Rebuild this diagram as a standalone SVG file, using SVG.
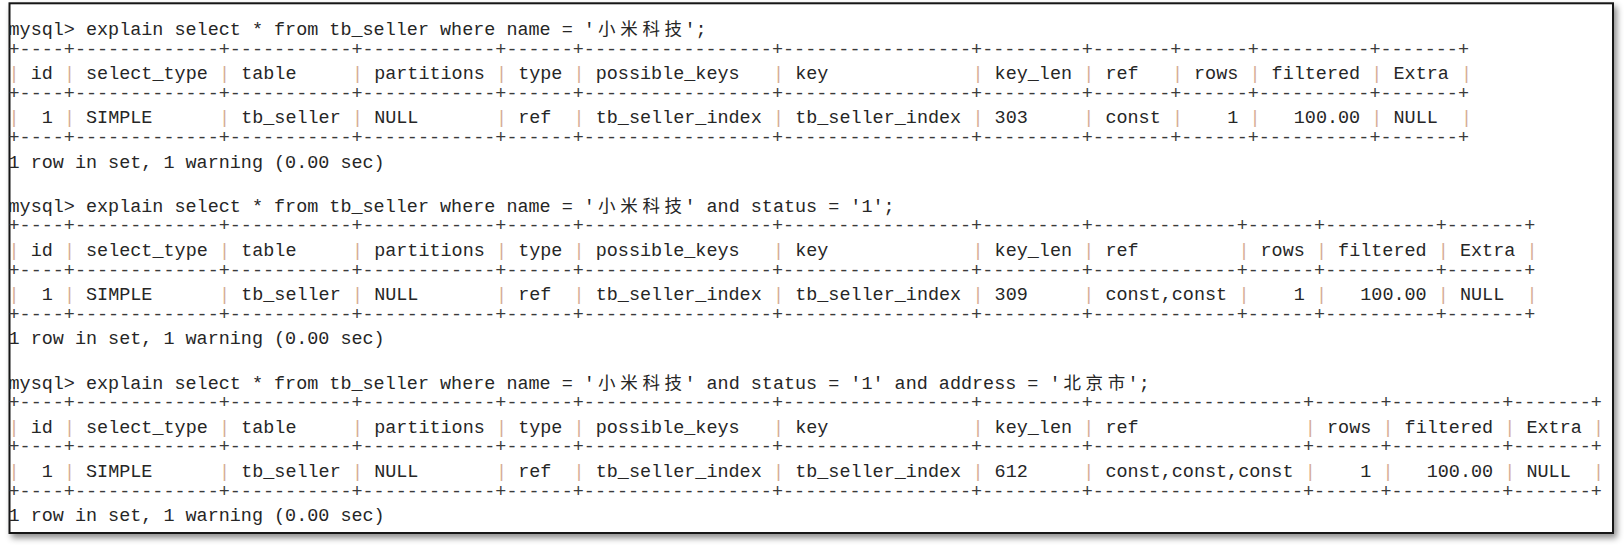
<svg xmlns="http://www.w3.org/2000/svg" width="1624" height="549" viewBox="0 0 1624 549" xml:space="preserve">
<defs>
<filter id="sh" x="-2%" y="-3%" width="105%" height="110%">
<feDropShadow dx="3" dy="4" stdDeviation="3" flood-color="#000" flood-opacity="0.45"/>
</filter>
<style>
text{font-family:"Liberation Mono","DejaVu Sans Mono",monospace;font-size:18.46px;fill:#262626;white-space:pre}
.b{fill:#3a3a3a}
.p{fill:#d6ae98}
.c{font-family:"Noto Sans CJK SC","Noto Sans CJK JP",sans-serif;font-size:17.5px;text-anchor:middle}
</style>
</defs>
<rect x="0" y="0" width="1624" height="549" fill="#fff"/>
<rect x="9.5" y="3.3" width="1603.5" height="529.7" fill="#fff" stroke="#151515" stroke-width="2" filter="url(#sh)"/>

<g id="block1">
<text x="8.5" y="35">mysql&gt; explain select * from tb_seller where name = '</text>
<text class="c" x="606.82" y="35">小</text><text class="c" x="628.98" y="35">米</text><text class="c" x="651.14" y="35">科</text><text class="c" x="673.3" y="35">技</text>
<text x="684.38" y="35">';</text>
<text class="b" x="8.5" y="54.5">+----+-------------+-----------+------------+------+-----------------+-----------------+---------+-------+------+----------+-------+</text>
<text y="79.2"><tspan class="p" x="8.5">|</tspan><tspan x="30.66">id</tspan><tspan class="p" x="63.9">|</tspan><tspan x="86.06">select_type</tspan><tspan class="p" x="219.02">|</tspan><tspan x="241.18">table</tspan><tspan class="p" x="352">|</tspan><tspan x="374.14">partitions</tspan><tspan class="p" x="496.02">|</tspan><tspan x="518.18">type</tspan><tspan class="p" x="573.58">|</tspan><tspan x="595.74">possible_keys</tspan><tspan class="p" x="773.02">|</tspan><tspan x="795.18">key</tspan><tspan class="p" x="972.46">|</tspan><tspan x="994.62">key_len</tspan><tspan class="p" x="1083.26">|</tspan><tspan x="1105.42">ref</tspan><tspan class="p" x="1171.9">|</tspan><tspan x="1194.06">rows</tspan><tspan class="p" x="1249.46">|</tspan><tspan x="1271.62">filtered</tspan><tspan class="p" x="1371.34">|</tspan><tspan x="1393.5">Extra</tspan><tspan class="p" x="1460.98">|</tspan></text>
<text class="b" x="8.5" y="98.7">+----+-------------+-----------+------------+------+-----------------+-----------------+---------+-------+------+----------+-------+</text>
<text y="123.4"><tspan class="p" x="8.5">|</tspan><tspan x="41.74">1</tspan><tspan class="p" x="63.9">|</tspan><tspan x="86.06">SIMPLE</tspan><tspan class="p" x="219.02">|</tspan><tspan x="241.18">tb_seller</tspan><tspan class="p" x="352">|</tspan><tspan x="374.14">NULL</tspan><tspan class="p" x="496.02">|</tspan><tspan x="518.18">ref</tspan><tspan class="p" x="573.58">|</tspan><tspan x="595.74">tb_seller_index</tspan><tspan class="p" x="773.02">|</tspan><tspan x="795.18">tb_seller_index</tspan><tspan class="p" x="972.46">|</tspan><tspan x="994.62">303</tspan><tspan class="p" x="1083.26">|</tspan><tspan x="1105.42">const</tspan><tspan class="p" x="1171.9">|</tspan><tspan x="1227.3">1</tspan><tspan class="p" x="1249.46">|</tspan><tspan x="1293.78">100.00</tspan><tspan class="p" x="1371.34">|</tspan><tspan x="1393.5">NULL</tspan><tspan class="p" x="1460.98">|</tspan></text>
<text class="b" x="8.5" y="142.9">+----+-------------+-----------+------------+------+-----------------+-----------------+---------+-------+------+----------+-------+</text>
<text x="8.5" y="167.6">1 row in set, 1 warning (0.00 sec)</text>
</g>

<g id="block2">
<text x="8.5" y="211.8">mysql&gt; explain select * from tb_seller where name = '</text>
<text class="c" x="606.82" y="211.8">小</text><text class="c" x="628.98" y="211.8">米</text><text class="c" x="651.14" y="211.8">科</text><text class="c" x="673.3" y="211.8">技</text>
<text x="684.38" y="211.8">' and status = '1';</text>
<text class="b" x="8.5" y="231.3">+----+-------------+-----------+------------+------+-----------------+-----------------+---------+-------------+------+----------+-------+</text>
<text y="256"><tspan class="p" x="8.5">|</tspan><tspan x="30.66">id</tspan><tspan class="p" x="63.9">|</tspan><tspan x="86.06">select_type</tspan><tspan class="p" x="219.02">|</tspan><tspan x="241.18">table</tspan><tspan class="p" x="352">|</tspan><tspan x="374.14">partitions</tspan><tspan class="p" x="496.02">|</tspan><tspan x="518.18">type</tspan><tspan class="p" x="573.58">|</tspan><tspan x="595.74">possible_keys</tspan><tspan class="p" x="773.02">|</tspan><tspan x="795.18">key</tspan><tspan class="p" x="972.46">|</tspan><tspan x="994.62">key_len</tspan><tspan class="p" x="1083.26">|</tspan><tspan x="1105.42">ref</tspan><tspan class="p" x="1238.38">|</tspan><tspan x="1260.54">rows</tspan><tspan class="p" x="1315.94">|</tspan><tspan x="1338.1">filtered</tspan><tspan class="p" x="1437.82">|</tspan><tspan x="1459.98">Extra</tspan><tspan class="p" x="1526.46">|</tspan></text>
<text class="b" x="8.5" y="275.5">+----+-------------+-----------+------------+------+-----------------+-----------------+---------+-------------+------+----------+-------+</text>
<text y="300.2"><tspan class="p" x="8.5">|</tspan><tspan x="41.74">1</tspan><tspan class="p" x="63.9">|</tspan><tspan x="86.06">SIMPLE</tspan><tspan class="p" x="219.02">|</tspan><tspan x="241.18">tb_seller</tspan><tspan class="p" x="352">|</tspan><tspan x="374.14">NULL</tspan><tspan class="p" x="496.02">|</tspan><tspan x="518.18">ref</tspan><tspan class="p" x="573.58">|</tspan><tspan x="595.74">tb_seller_index</tspan><tspan class="p" x="773.02">|</tspan><tspan x="795.18">tb_seller_index</tspan><tspan class="p" x="972.46">|</tspan><tspan x="994.62">309</tspan><tspan class="p" x="1083.26">|</tspan><tspan x="1105.42">const,const</tspan><tspan class="p" x="1238.38">|</tspan><tspan x="1293.78">1</tspan><tspan class="p" x="1315.94">|</tspan><tspan x="1360.26">100.00</tspan><tspan class="p" x="1437.82">|</tspan><tspan x="1459.98">NULL</tspan><tspan class="p" x="1526.46">|</tspan></text>
<text class="b" x="8.5" y="319.7">+----+-------------+-----------+------------+------+-----------------+-----------------+---------+-------------+------+----------+-------+</text>
<text x="8.5" y="344.4">1 row in set, 1 warning (0.00 sec)</text>
</g>

<g id="block3">
<text x="8.5" y="388.6">mysql&gt; explain select * from tb_seller where name = '</text>
<text class="c" x="606.82" y="388.6">小</text><text class="c" x="628.98" y="388.6">米</text><text class="c" x="651.14" y="388.6">科</text><text class="c" x="673.3" y="388.6">技</text>
<text x="684.38" y="388.6">' and status = '1' and address = '</text>
<text class="c" x="1072.18" y="388.6">北</text><text class="c" x="1094.34" y="388.6">京</text><text class="c" x="1116.5" y="388.6">市</text>
<text x="1127.58" y="388.6">';</text>
<text class="b" x="8.5" y="408.1">+----+-------------+-----------+------------+------+-----------------+-----------------+---------+-------------------+------+----------+-------+</text>
<text y="432.8"><tspan class="p" x="8.5">|</tspan><tspan x="30.66">id</tspan><tspan class="p" x="63.9">|</tspan><tspan x="86.06">select_type</tspan><tspan class="p" x="219.02">|</tspan><tspan x="241.18">table</tspan><tspan class="p" x="352">|</tspan><tspan x="374.14">partitions</tspan><tspan class="p" x="496.02">|</tspan><tspan x="518.18">type</tspan><tspan class="p" x="573.58">|</tspan><tspan x="595.74">possible_keys</tspan><tspan class="p" x="773.02">|</tspan><tspan x="795.18">key</tspan><tspan class="p" x="972.46">|</tspan><tspan x="994.62">key_len</tspan><tspan class="p" x="1083.26">|</tspan><tspan x="1105.42">ref</tspan><tspan class="p" x="1304.86">|</tspan><tspan x="1327.02">rows</tspan><tspan class="p" x="1382.42">|</tspan><tspan x="1404.58">filtered</tspan><tspan class="p" x="1504.3">|</tspan><tspan x="1526.46">Extra</tspan><tspan class="p" x="1592.94">|</tspan></text>
<text class="b" x="8.5" y="452.3">+----+-------------+-----------+------------+------+-----------------+-----------------+---------+-------------------+------+----------+-------+</text>
<text y="477"><tspan class="p" x="8.5">|</tspan><tspan x="41.74">1</tspan><tspan class="p" x="63.9">|</tspan><tspan x="86.06">SIMPLE</tspan><tspan class="p" x="219.02">|</tspan><tspan x="241.18">tb_seller</tspan><tspan class="p" x="352">|</tspan><tspan x="374.14">NULL</tspan><tspan class="p" x="496.02">|</tspan><tspan x="518.18">ref</tspan><tspan class="p" x="573.58">|</tspan><tspan x="595.74">tb_seller_index</tspan><tspan class="p" x="773.02">|</tspan><tspan x="795.18">tb_seller_index</tspan><tspan class="p" x="972.46">|</tspan><tspan x="994.62">612</tspan><tspan class="p" x="1083.26">|</tspan><tspan x="1105.42">const,const,const</tspan><tspan class="p" x="1304.86">|</tspan><tspan x="1360.26">1</tspan><tspan class="p" x="1382.42">|</tspan><tspan x="1426.74">100.00</tspan><tspan class="p" x="1504.3">|</tspan><tspan x="1526.46">NULL</tspan><tspan class="p" x="1592.94">|</tspan></text>
<text class="b" x="8.5" y="496.5">+----+-------------+-----------+------------+------+-----------------+-----------------+---------+-------------------+------+----------+-------+</text>
<text x="8.5" y="521.2">1 row in set, 1 warning (0.00 sec)</text>
</g>
</svg>
